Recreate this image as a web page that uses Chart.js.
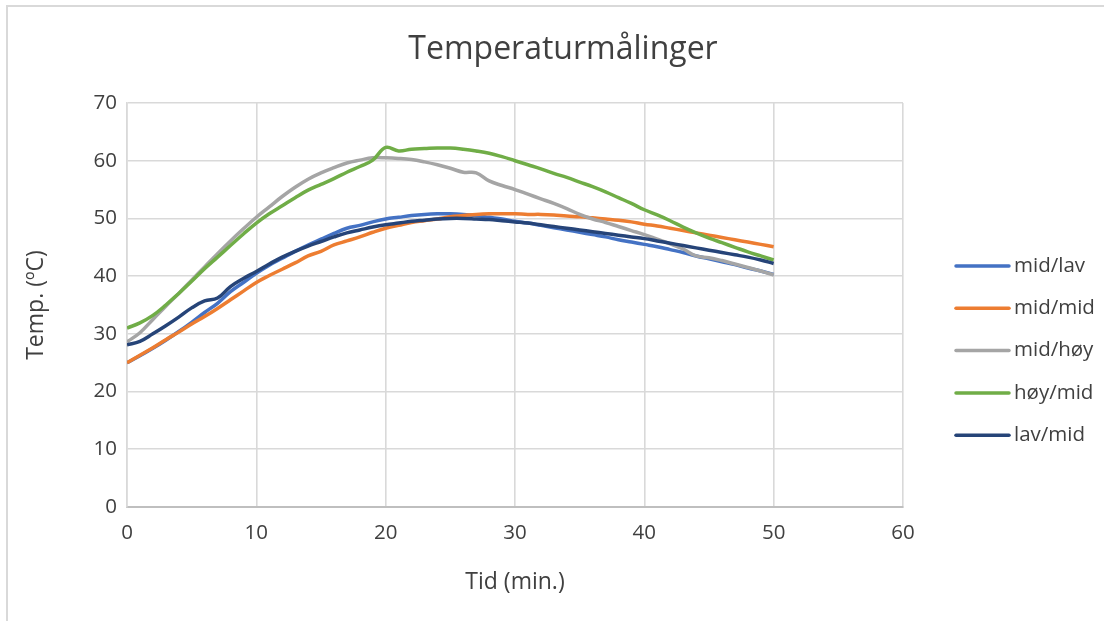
<!DOCTYPE html>
<html>
<head>
<meta charset="utf-8">
<title>Temperaturmålinger</title>
<script src="https://cdn.jsdelivr.net/npm/chart.js@4.4.1/dist/chart.umd.min.js"></script>
<style>
  html, body { margin: 0; padding: 0; background: #ffffff; }
  #wrap { position: relative; width: 1104px; height: 621px; }
</style>
</head>
<body>
<div id="wrap"><canvas id="temp-chart"></canvas></div>
<script>
// Time in minutes, one reading per minute
var minutes = [0, 1, 2, 3, 4, 5, 6, 7, 8, 9,
    10, 11, 12, 13, 14, 15, 16, 17, 18, 19,
    20, 21, 22, 23, 24, 25, 26, 27, 28, 29,
    30, 31, 32, 33, 34, 35, 36, 37, 38, 39,
    40, 41, 42, 43, 44, 45, 46, 47, 48, 49, 50];

var seriesNames = ['mid/lav', 'mid/mid', 'mid/høy', 'høy/mid', 'lav/mid'];

var midLav = [25.0, 26.2, 27.5, 28.9, 30.4, 32.0, 33.7, 35.3, 37.3, 38.9,
    40.5, 41.9, 43.1, 44.3, 45.4, 46.4, 47.4, 48.3, 48.8, 49.4,
    49.9, 50.2, 50.5, 50.7, 50.8, 50.8, 50.7, 50.5, 50.2, 49.9,
    49.5, 49.2, 48.8, 48.4, 48.0, 47.6, 47.2, 46.8, 46.3, 45.9,
    45.5, 45.1, 44.6, 44.1, 43.5, 43.0, 42.5, 42.0, 41.4, 40.9, 40.3];

var midMid = [25.0, 26.3, 27.6, 29.0, 30.3, 31.7, 33.0, 34.4, 35.9, 37.4,
    38.9, 40.1, 41.2, 42.3, 43.5, 44.3, 45.4, 46.1, 46.8, 47.6,
    48.3, 48.8, 49.3, 49.6, 49.9, 50.3, 50.5, 50.7, 50.8, 50.8,
    50.8, 50.7, 50.7, 50.6, 50.4, 50.3, 50.1, 49.9, 49.7, 49.4,
    49.0, 48.7, 48.3, 47.9, 47.5, 47.1, 46.7, 46.3, 45.9, 45.5, 45.1];

var midHoy = [28.6, 30.2, 32.5, 34.8, 37.0, 39.3, 41.6, 43.9, 46.1, 48.2,
    50.2, 52.0, 53.8, 55.4, 56.8, 57.9, 58.8, 59.6, 60.1, 60.5,
    60.5, 60.4, 60.2, 59.8, 59.3, 58.7, 58.0, 57.9, 56.5, 55.7,
    55.0, 54.2, 53.4, 52.6, 51.7, 50.7, 49.9, 49.3, 48.6, 47.9,
    47.2, 46.4, 45.6, 44.7, 43.5, 43.2, 42.7, 42.1, 41.5, 40.9, 40.2];

var hoyMid = [31.0, 31.9, 33.2, 35.0, 37.0, 39.1, 41.3, 43.3, 45.3, 47.3,
    49.2, 50.8, 52.2, 53.6, 54.9, 55.9, 56.9, 58.0, 59.0, 60.1,
    62.3, 61.7, 62.0, 62.1, 62.2, 62.2, 62.0, 61.7, 61.3, 60.7,
    60.0, 59.3, 58.6, 57.8, 57.1, 56.3, 55.5, 54.6, 53.6, 52.6,
    51.5, 50.6, 49.6, 48.5, 47.5, 46.6, 45.8, 45.0, 44.2, 43.5, 42.8];

var lavMid = [28.1, 28.7, 30.0, 31.4, 32.9, 34.5, 35.7, 36.2, 38.2, 39.6,
    40.8, 42.1, 43.3, 44.3, 45.2, 46.0, 46.8, 47.5, 48.0, 48.5,
    48.9, 49.2, 49.5, 49.7, 49.9, 50.0, 50.0, 49.9, 49.8, 49.6,
    49.4, 49.2, 48.9, 48.6, 48.3, 48.0, 47.7, 47.4, 47.1, 46.8,
    46.5, 46.1, 45.7, 45.3, 44.9, 44.5, 44.1, 43.7, 43.3, 42.8, 42.2];

var seriesValues = [midLav, midMid, midHoy, hoyMid, lavMid];
var seriesColors = ['#4472C4', '#ED7D31', '#A5A5A5', '#70AD47', '#264478'];

var textColor = '#404040';
var fontFamily = "'Open Sans', 'Noto Sans', sans-serif";

function toPoints(values) {
    return values.map(function (v, i) {
        return { x: minutes[i], y: v };
    });
}

// later series are painted on top of earlier ones
var datasets = seriesValues.map(function (values, i) {
    return {
        label: seriesNames[i],
        data: toPoints(values),
        borderColor: seriesColors[i],
        backgroundColor: seriesColors[i],
        borderWidth: 3.5,
        pointRadius: 0,
        tension: 0.4,
        fill: false,
        order: seriesValues.length - i
    };
});

// frame, title and legend are painted by hand around the plot
var chartDecor = {
    id: 'chartDecor',
    beforeDraw: function (chart) {
        var ctx = chart.ctx;
        ctx.save();
        ctx.strokeStyle = '#d9d9d9';
        ctx.lineWidth = 2;
        ctx.beginPath();
        ctx.moveTo(7, chart.height);
        ctx.lineTo(7, 6);
        ctx.lineTo(chart.width, 6);
        ctx.stroke();
        ctx.restore();
    },
    afterDraw: function (chart) {
        var ctx = chart.ctx;
        ctx.save();
        ctx.fillStyle = textColor;
        ctx.textAlign = 'center';
        ctx.textBaseline = 'middle';
        ctx.font = '32px ' + fontFamily;
        ctx.fillText('Temperaturmålinger', 563, 50);

        ctx.font = '20.5px ' + fontFamily;
        ctx.textAlign = 'left';
        chart.data.datasets.forEach(function (ds, i) {
            var y = 266 + i * 42.3;
            ctx.strokeStyle = ds.borderColor;
            ctx.lineWidth = 3.5;
            ctx.lineCap = 'round';
            ctx.beginPath();
            ctx.moveTo(956, y);
            ctx.lineTo(1009, y);
            ctx.stroke();
            ctx.fillText(ds.label, 1014, y);
        });
        ctx.restore();
    }
};

var ctx = document.getElementById('temp-chart').getContext('2d');
var tempChart = new Chart(ctx, {
    type: 'line',
    data: { datasets: datasets },
    options: {
        responsive: true,
        maintainAspectRatio: false,
        animation: false,
        layout: {
            padding: { left: 22, top: 103, right: 201, bottom: 0 }
        },
        plugins: {
            legend: { display: false },
            title: { display: false },
            tooltip: { enabled: false }
        },
        scales: {
            x: {
                type: 'linear',
                min: 0,
                max: 60,
                ticks: {
                    stepSize: 10,
                    color: textColor,
                    font: { family: fontFamily, size: 20.5 },
                    padding: 14
                },
                grid: {
                    color: '#d9d9d9',
                    lineWidth: 1.6,
                    drawTicks: false
                },
                border: { color: '#bfbfbf', width: 2 },
                title: {
                    display: true,
                    text: 'Tid (min.)',
                    color: textColor,
                    font: { family: fontFamily, size: 23 },
                    padding: { top: 0, bottom: 25 }
                },
                afterFit: function (scale) { scale.height = 114; }
            },
            y: {
                min: 0,
                max: 70,
                ticks: {
                    stepSize: 10,
                    color: textColor,
                    font: { family: fontFamily, size: 20.5 },
                    padding: 10
                },
                grid: {
                    color: '#d9d9d9',
                    lineWidth: 1.6,
                    drawTicks: false
                },
                border: { color: '#d9d9d9', width: 1.6 },
                title: {
                    display: true,
                    text: 'Temp. (ºC)',
                    color: textColor,
                    font: { family: fontFamily, size: 23 },
                    padding: { top: 1, bottom: 0 }
                },
                afterFit: function (scale) { scale.width = 105; }
            }
        }
    },
    plugins: [chartDecor]
});
</script>
</body>
</html>
